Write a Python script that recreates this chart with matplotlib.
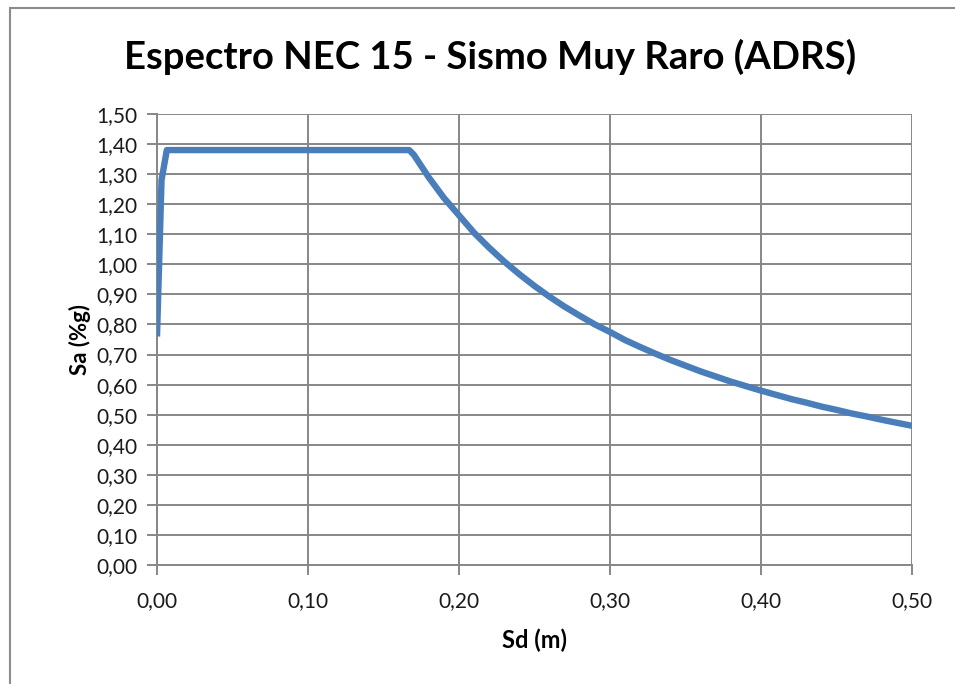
import matplotlib
matplotlib.use("Agg")
import matplotlib.pyplot as plt
from matplotlib.patches import Rectangle
from matplotlib.ticker import FuncFormatter, MultipleLocator

# Data (Sd in m, Sa in %g)
sd = [0.000, 0.003, 0.0065, 0.050, 0.100, 0.150, 0.167,
      0.170, 0.180, 0.190, 0.200, 0.210, 0.220, 0.230, 0.240, 0.250,
      0.260, 0.270, 0.280, 0.290, 0.300, 0.310, 0.320, 0.330, 0.340,
      0.350, 0.360, 0.370, 0.380, 0.390, 0.400, 0.410, 0.420, 0.430,
      0.440, 0.450, 0.460, 0.470, 0.480, 0.490, 0.500]
sa = [0.76, 1.28, 1.38, 1.38, 1.38, 1.38, 1.38,
      1.365, 1.289, 1.221, 1.163, 1.105, 1.055, 1.009, 0.967, 0.928,
      0.892, 0.859, 0.829, 0.800, 0.775, 0.748, 0.725, 0.703, 0.682,
      0.663, 0.644, 0.627, 0.610, 0.595, 0.580, 0.566, 0.552, 0.540,
      0.527, 0.516, 0.504, 0.494, 0.483, 0.473, 0.463]

title = "Espectro NEC 15 - Sismo Muy Raro (ADRS)"
xlabel = "Sd (m)"
ylabel = "Sa (%g)"

plt.rcParams['font.family'] = ['Lato', 'DejaVu Sans']

W, H = 955, 684
fig = plt.figure(figsize=(W / 100, H / 100), dpi=100)
fig.patch.set_facecolor('white')

# outer chart border (cut by the image edges on right/bottom)
fig.patches.append(Rectangle((10 / W, -0.1), 1.2, 1 - 8 / H + 0.1,
                             transform=fig.transFigure, fill=False,
                             edgecolor='#8c8c8c', linewidth=1.5))

ax = fig.add_axes([157 / W, 1 - 565 / H, (912 - 157) / W, (565 - 114) / H])
ax.plot(sd, sa, color='#4A7EBB', linewidth=4.6, solid_joinstyle='round',
        solid_capstyle='butt', zorder=3)

ax.set_xlim(0, 0.5)
ax.set_ylim(0, 1.5)
ax.xaxis.set_major_locator(MultipleLocator(0.1))
ax.yaxis.set_major_locator(MultipleLocator(0.1))
fmt = FuncFormatter(lambda v, p: f"{v:.2f}".replace('.', ','))
ax.xaxis.set_major_formatter(fmt)
ax.yaxis.set_major_formatter(fmt)

ax.grid(True, color='#878787', linewidth=1.4)
ax.set_axisbelow(True)
for s in ['top', 'right']:
    ax.spines[s].set_visible(False)
for s in ['left', 'bottom']:
    ax.spines[s].set_color('#878787')
    ax.spines[s].set_linewidth(1.4)
ax.tick_params(axis='both', direction='out', length=7, width=1.4,
               color='#878787', labelsize=15, labelcolor='#1a1a1a', pad=7)
ax.tick_params(axis='x', pad=12)

fig.text(490 / W, 1 - 57 / H, title, ha='center', va='center',
         fontsize=27.5, fontweight='bold', color='black')
fig.text(535 / W, 1 - 640 / H, xlabel, ha='center', va='center',
         fontsize=17, fontweight='bold', color='black')
fig.text(80 / W, 1 - 340 / H, ylabel, ha='center', va='center',
         fontsize=16, fontweight='bold', color='black', rotation=90)

fig.savefig('out.png', dpi=100, facecolor='white')
